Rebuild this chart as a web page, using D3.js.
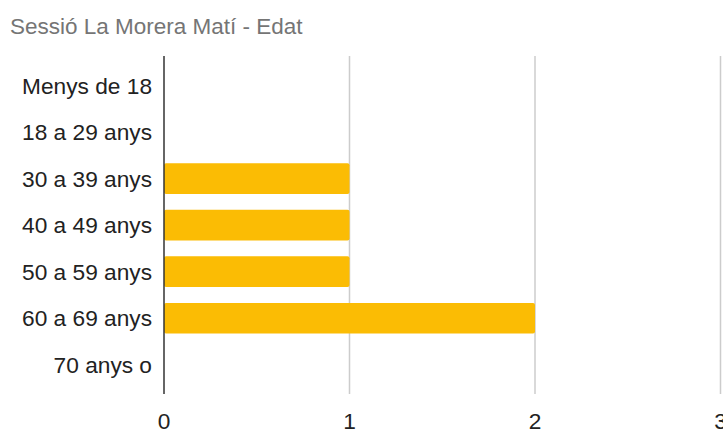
<!DOCTYPE html>
<html>
<head>
<meta charset="utf-8">
<script src="https://cdn.jsdelivr.net/npm/d3@7"></script>
<style>
  body { margin: 0; background: #fff; overflow: hidden; }
  svg { display: block; font-family: Arial, "Liberation Sans", sans-serif; }
</style>
</head>
<body>
<div class="visHolder"></div>
<script>
// Chart data
var title = 'Sessió La Morera Matí - Edat';
var categories = ['Menys de 18', '18 a 29 anys', '30 a 39 anys', '40 a 49 anys', '50 a 59 anys', '60 a 69 anys', '70 anys o'];
var counts = [0, 0, 1, 1, 1, 2, 0];
var xTicks = [0, 1, 2, 3];

var width = 723,
height = 429;

var svg = d3.select('.visHolder').
append('svg').
attr('width', width).
attr('height', height);

// Scales
var xScale = d3.scaleLinear().
domain([0, 3]).
range([164, 720.5]);

var yScale = d3.scaleBand().
domain(categories).
range([62.4, 388]).
paddingInner(0.34).
paddingOuter(0.17);

// Title
svg.append('text').
attr('x', 10).
attr('y', 34).
style('font-size', '22.5px').
style('fill', '#757575').
text(title);

// Grid lines
svg.append('g').
selectAll('line').
data(xTicks.slice(1)).
enter().
append('line').
attr('x1', function (d) { return xScale(d); }).
attr('x2', function (d) { return xScale(d); }).
attr('y1', 56).
attr('y2', 394).
style('stroke', '#cccccc').
style('stroke-width', 1.5);

// Bars
svg.append('g').
selectAll('rect').
data(counts).
enter().
append('rect').
attr('x', xScale(0)).
attr('y', function (d, i) { return yScale(categories[i]); }).
attr('width', function (d) { return Math.max(0, xScale(d) - xScale(0)); }).
attr('height', yScale.bandwidth()).
attr('rx', 2).
style('fill', '#fbbc04');

// Baseline axis
svg.append('line').
attr('x1', xScale(0)).
attr('x2', xScale(0)).
attr('y1', 56).
attr('y2', 394).
style('stroke', '#333333').
style('stroke-width', 1.5);

// Category labels
svg.append('g').
selectAll('text').
data(categories).
enter().
append('text').
attr('x', 152).
attr('y', function (d) { return yScale(d) + yScale.bandwidth() / 2; }).
attr('dy', '0.36em').
attr('text-anchor', 'end').
style('font-size', '22.7px').
style('fill', '#222222').
text(function (d) { return d; });

// X tick labels
svg.append('g').
selectAll('text').
data(xTicks).
enter().
append('text').
attr('x', function (d) { return xScale(d); }).
attr('y', 428.5).
attr('text-anchor', 'middle').
style('font-size', '22.7px').
style('fill', '#222222').
text(function (d) { return d; });
</script>
</body>
</html>
